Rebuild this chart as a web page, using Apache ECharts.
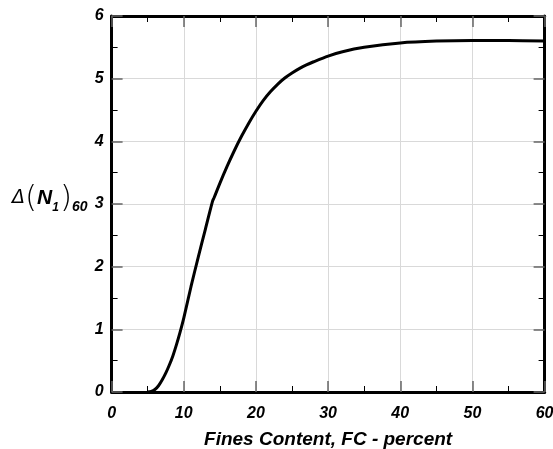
<!DOCTYPE html>
<html>
<head>
<meta charset="utf-8">
<script src="https://cdn.jsdelivr.net/npm/echarts@6/dist/echarts.min.js"></script>
<style>html,body{margin:0;padding:0;background:#fff}#c{width:553px;height:449px}</style>
</head>
<body>
<div id="c"></div>
<script>
var fc = [5, 5.5, 6, 6.5, 7, 7.5, 8, 8.5, 9, 9.5, 10, 11, 12, 13, 14, 14.2, 15, 16, 17, 18, 19, 20, 21, 22, 23, 24, 25, 26, 27, 28, 30, 32, 35, 40, 45, 50, 55, 60];
var dN = [0, 0.01, 0.04, 0.1, 0.19, 0.3, 0.43, 0.58, 0.76, 0.96, 1.18, 1.68, 2.15, 2.6, 3.05, 3.1, 3.33, 3.6, 3.85, 4.08, 4.29, 4.48, 4.65, 4.79, 4.91, 5.01, 5.09, 5.16, 5.22, 5.27, 5.36, 5.43, 5.5, 5.57, 5.6, 5.61, 5.61, 5.6];
var xTicks = [0, 10, 20, 30, 40, 50, 60];
var yTicks = [0, 1, 2, 3, 4, 5, 6];
var xTitle = 'Fines Content, FC - percent';

var chart = echarts.init(document.getElementById('c'));
var lab = {fontFamily: 'Liberation Sans', fontWeight: 'bold', fontStyle: 'italic', fontSize: 16, color: '#000'};
function axisCommon(showLabel) {
  return {
    axisLine: {show: true, onZero: false, lineStyle: {color: '#000', width: 3}},
    axisTick: {show: true, inside: true, length: 11, lineStyle: {color: '#666', width: 1.5}},
    minorTick: {show: true, splitNumber: 2, length: 6, lineStyle: {color: '#000', width: 1}},
    splitLine: {show: false},
    axisLabel: Object.assign({show: showLabel}, lab)
  };
}
var xb = Object.assign(axisCommon(true), {
  type: 'value', position: 'bottom', min: 0, max: 60, interval: 10,
  splitLine: {show: true, lineStyle: {color: '#d9d9d9', width: 1}},
  name: xTitle, nameLocation: 'middle', nameGap: 38,
  nameTextStyle: {fontFamily: 'Liberation Sans', fontWeight: 'bold', fontStyle: 'italic', fontSize: 19, color: '#000'}
});
xb.axisLabel.margin = 14;
xb.axisLabel.formatter = function(v){ return xTicks.indexOf(v) >= 0 ? String(v) : ''; };
var xt = Object.assign(axisCommon(false), {type: 'value', position: 'top', min: 0, max: 60, interval: 10});
var yl = Object.assign(axisCommon(true), {
  type: 'value', position: 'left', min: 0, max: 6, interval: 1,
  splitLine: {show: true, lineStyle: {color: '#d9d9d9', width: 1}}
});
yl.axisLabel.margin = 8;
yl.axisLabel.formatter = function(v){ return yTicks.indexOf(v) >= 0 ? String(v) : ''; };
var yr = Object.assign(axisCommon(false), {type: 'value', position: 'right', min: 0, max: 6, interval: 1});

chart.setOption({
  animation: false,
  grid: {left: 111.6, right: 8.4, top: 16, bottom: 57, containLabel: false, outerBoundsMode: 'none'},
  xAxis: [xb, xt],
  yAxis: [yl, yr],
  graphic: [{
    type: 'text', left: 12, top: 183,
    style: {
      text: '{d|Δ}{p|(}{n|N}{s|1}{p|)}{s2|60}',
      rich: {
        d: {fontFamily: 'DejaVu Sans', fontStyle: 'italic', fontSize: 19, color: '#000', verticalAlign: 'middle'},
        p: {fontFamily: 'DejaVu Sans', fontWeight: 'lighter', fontSize: 31, color: '#000', verticalAlign: 'middle'},
        n: {fontFamily: 'Liberation Sans', fontWeight: 'bold', fontStyle: 'italic', fontSize: 21, color: '#000', verticalAlign: 'middle'},
        s: {fontFamily: 'Liberation Sans', fontWeight: 'bold', fontStyle: 'italic', fontSize: 12, color: '#000', verticalAlign: 'bottom', padding: [0, 1, 0, 0]},
        s2: {fontFamily: 'Liberation Sans', fontWeight: 'bold', fontStyle: 'italic', fontSize: 14, color: '#000', verticalAlign: 'bottom'}
      }
    }
  }],
  series: [{
    type: 'line', xAxisIndex: 0, yAxisIndex: 0,
    data: fc.map(function(x, i){ return [x, dN[i]]; }),
    showSymbol: false, smooth: 0.3,
    lineStyle: {color: '#000', width: 3}
  }]
});
</script>
</body>
</html>
